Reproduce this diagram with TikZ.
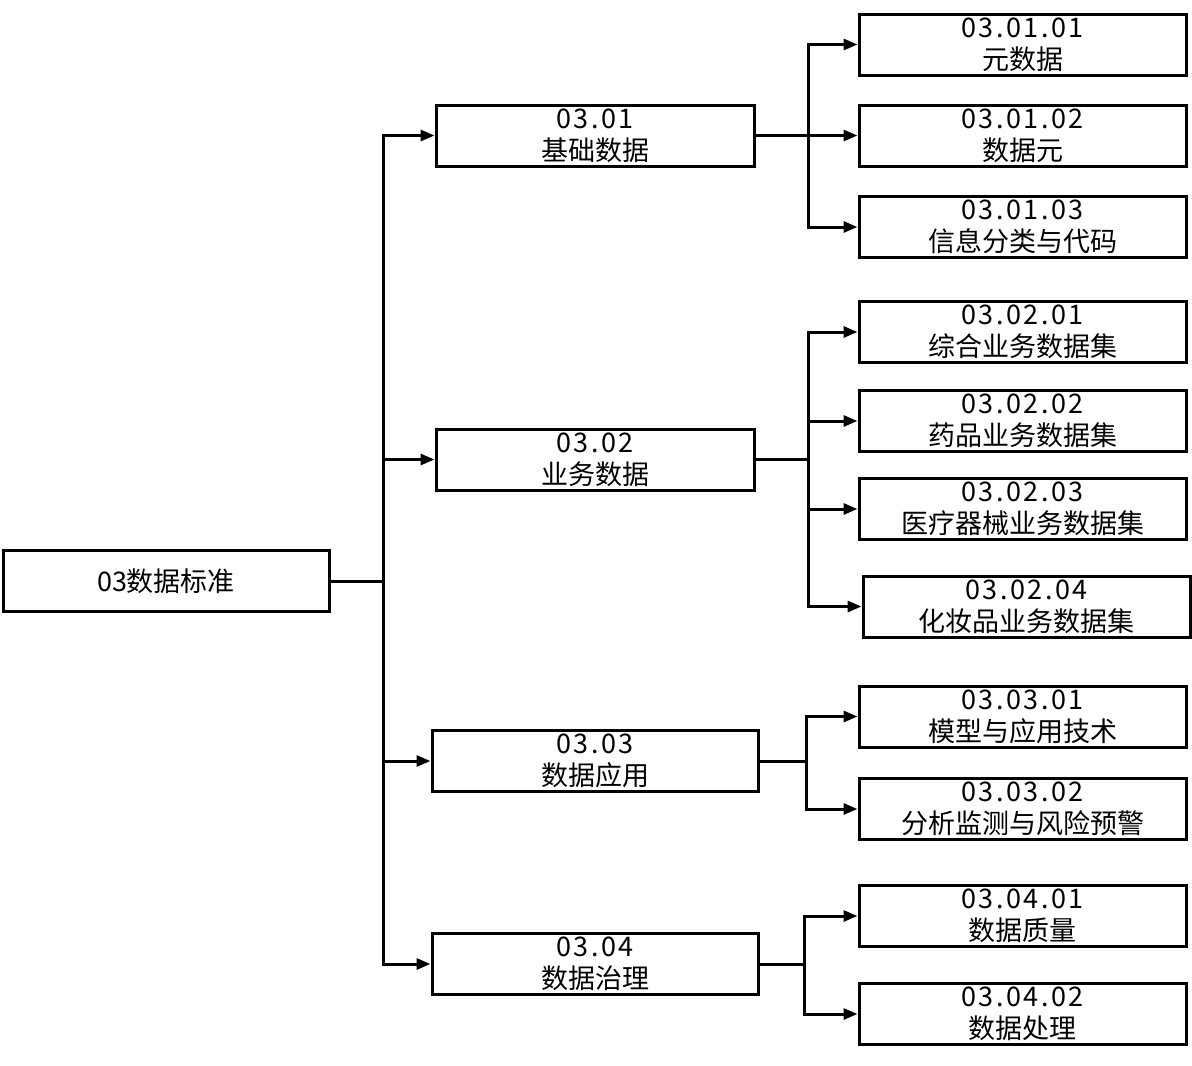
\documentclass[tikz,border=0pt]{standalone}
\usepackage{fontspec}
\setmainfont{Noto Sans CJK SC}
\newfontfamily\codefont[LetterSpace=9]{Noto Sans CJK SC}
\usetikzlibrary{arrows.meta}

\newcommand{\code}[1]{{\codefont #1}}

\begin{document}
\begin{tikzpicture}[x=1pt,y=-1pt,
    box/.style={draw,line width=3pt,inner sep=0pt,align=center,
                minimum width=#1,minimum height=61pt,
                font=\fontsize{27}{32}\selectfont},
    box/.default=327pt,
    arr/.style={line width=3pt,-{Triangle[length=14pt,width=11pt]}},
    link/.style={line width=3pt}]
                \useasboundingbox (0,0) rectangle (1192,1066);

                % root
                \node[box=326pt] (root) at (166,581) {03数据标准};

                % level 1
                \node[box=318pt] (a) at (595,135.5) {\code{03.01}\\基础数据};
                \node[box=318pt] (b) at (595,459.5) {\code{03.02}\\业务数据};
                \node[box=326pt] (c) at (595,761)   {\code{03.03}\\数据应用};
                \node[box=326pt] (d) at (595,964)   {\code{03.04}\\数据治理};

                % level 2
                \node[box] (a1) at (1022.5,44.5)  {\code{03.01.01}\\元数据};
                \node[box] (a2) at (1022.5,135.5) {\code{03.01.02}\\数据元};
                \node[box] (a3) at (1022.5,227)   {\code{03.01.03}\\信息分类与代码};
                \node[box] (b1) at (1022.5,332)   {\code{03.02.01}\\综合业务数据集};
                \node[box] (b2) at (1022.5,421)   {\code{03.02.02}\\药品业务数据集};
                \node[box] (b3) at (1022.5,509)   {\code{03.02.03}\\医疗器械业务数据集};
                \node[box] (b4) at (1026.5,606.5) {\code{03.02.04}\\化妆品业务数据集};
                \node[box] (c1) at (1022.5,716.5) {\code{03.03.01}\\模型与应用技术};
                \node[box] (c2) at (1022.5,809)   {\code{03.03.02}\\分析监测与风险预警};
                \node[box] (d1) at (1022.5,916)   {\code{03.04.01}\\数据质量};
                \node[box] (d2) at (1022.5,1014)  {\code{03.04.02}\\数据处理};

                % connectors
                \draw[link] (root.east) -- ++(53,0) coordinate (t);
                \foreach \n in {a,b,c,d}
                    \draw[arr] (t) |- (\n.west);

                \draw[link] (a.east) -- ++(53,0) coordinate (ta);
                \foreach \n in {a1,a2,a3}
                    \draw[arr] (ta) |- (\n.west);

                \draw[link] (b.east) -- ++(53,0) coordinate (tb);
                \foreach \n in {b1,b2,b3,b4}
                    \draw[arr] (tb) |- (\n.west);

                \draw[link] (c.east) -- ++(47,0) coordinate (tc);
                \foreach \n in {c1,c2}
                    \draw[arr] (tc) |- (\n.west);

                \draw[link] (d.east) -- ++(45,0) coordinate (td);
                \foreach \n in {d1,d2}
                    \draw[arr] (td) |- (\n.west);
\end{tikzpicture}
\end{document}
